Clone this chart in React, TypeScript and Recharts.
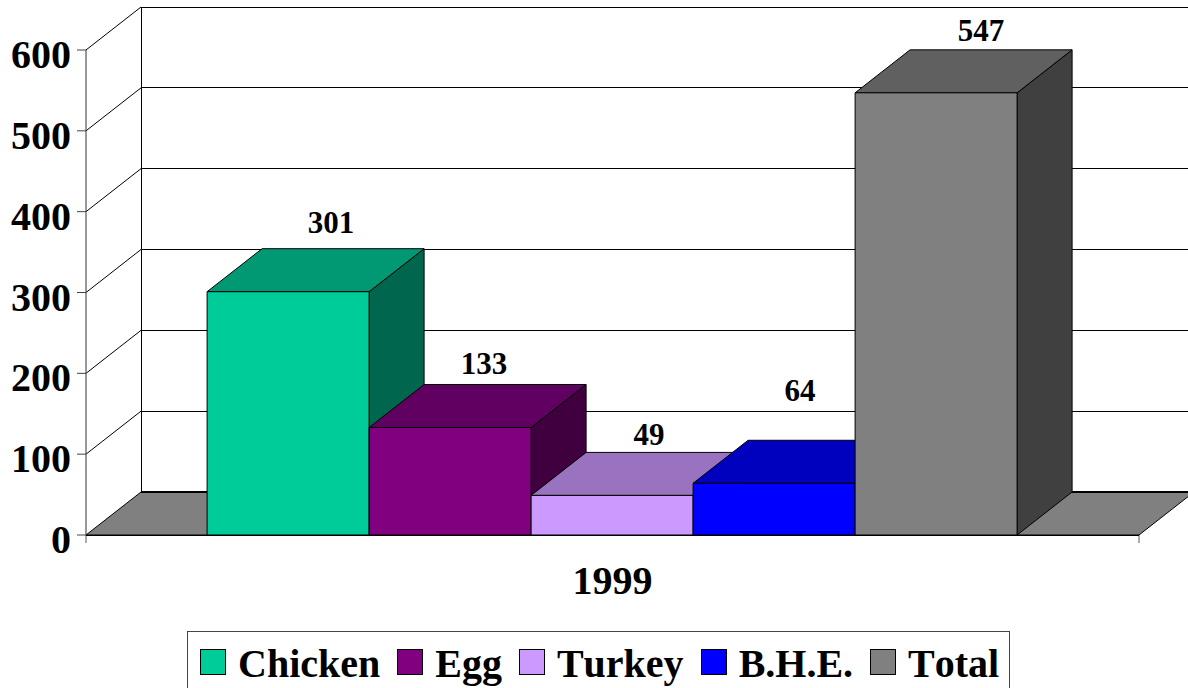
import { BarChart, Bar, XAxis, YAxis, CartesianGrid, Legend } from "recharts";

const categories = ["1999"];
const seriesNames = ["Chicken", "Egg", "Turkey", "B.H.E.", "Total"];
const seriesValues = [[301], [133], [49], [64], [547]];
const seriesColors = ["#00CC99", "#800080", "#CC99FF", "#0000FF", "#808080"];
const yTicks = [0, 100, 200, 300, 400, 500, 600];

const data = categories.map((category, i) => {
  const row: Record<string, string | number> = { category };
  seriesNames.forEach((name, s) => {
    row[name] = seriesValues[s][i];
  });
  return row;
});

// depth of the fake 3D box, in pixels
const DEPTH_X = 55;
const DEPTH_Y = 43;
const FONT = "'Liberation Serif', 'Times New Roman', serif";

// the value labels don't sit at a fixed spot over the bars in the original
const labelNudges = [
  { dx: 43, dy: -59 },
  { dx: 34, dy: -53 },
  { dx: 37, dy: -50 },
  { dx: 26, dy: -82 },
  { dx: 45, dy: -52 },
];

const shade = (hex: string, k: number) => {
  const n = parseInt(hex.slice(1), 16);
  const part = (v: number) => Math.round(v * k);
  return `rgb(${part((n >> 16) & 255)},${part((n >> 8) & 255)},${part(n & 255)})`;
};

const Box = ({ x, y, width, height, fill }: any) => {
  const right = x + width;
  const bottom = y + height;
  return (
    <g stroke="#000" strokeWidth={1} strokeLinejoin="round">
      <polygon
        points={`${right},${y} ${right + DEPTH_X},${y - DEPTH_Y} ${right + DEPTH_X},${bottom - DEPTH_Y} ${right},${bottom}`}
        fill={shade(fill, 0.5)}
      />
      <polygon
        points={`${x},${y} ${x + DEPTH_X},${y - DEPTH_Y} ${right + DEPTH_X},${y - DEPTH_Y} ${right},${y}`}
        fill={shade(fill, 0.75)}
      />
      <rect x={x} y={y} width={width} height={height} fill={fill} />
    </g>
  );
};

const WallLine = (props: any) => {
  const { x1, x2, y1, y, height, key } = props;
  const isFloor = y1 >= y + height - 1;
  const isTop = y1 <= y + 1;
  return (
    <g key={key}>
      {isFloor && (
        <polygon
          points={`${x1},${y1} ${x1 + DEPTH_X},${y1 - DEPTH_Y} ${x2 + DEPTH_X},${y1 - DEPTH_Y} ${x2},${y1}`}
          fill="#808080"
          stroke="#000"
          strokeWidth={1}
        />
      )}
      {isFloor && (
        <line x1={x1 + DEPTH_X} x2={x2 + DEPTH_X} y1={y1 - DEPTH_Y} y2={y1 - DEPTH_Y} stroke="#000" strokeWidth={2} />
      )}
      {isFloor && <line x1={x1} x2={x1} y1={y1} y2={y1 + 8} stroke="#555" />}
      {isFloor && <line x1={x2} x2={x2} y1={y1} y2={y1 + 8} stroke="#555" />}
      {isTop && (
        <line x1={x1 + DEPTH_X} x2={x1 + DEPTH_X} y1={y1 - DEPTH_Y} y2={y + height - DEPTH_Y} stroke="#000" shapeRendering="crispEdges" />
      )}
      {isFloor && <line x1={x1} x2={x2} y1={y1} y2={y1} stroke="#000" shapeRendering="crispEdges" />}
      {!isFloor && (
        <>
          <line x1={x1} y1={y1} x2={x1 + DEPTH_X} y2={y1 - DEPTH_Y} stroke="#000" />
          <line x1={x1 + DEPTH_X} y1={y1 - DEPTH_Y} x2={x2 + DEPTH_X} y2={y1 - DEPTH_Y} stroke="#000" shapeRendering="crispEdges" />
        </>
      )}
    </g>
  );
};

const YTick = ({ x, y, payload }: any) => (
  <text x={x} y={y + 18} textAnchor="end" fontFamily={FONT} fontWeight="bold" fontSize={40} fill="#000">
    {payload.value}
  </text>
);

const XTick = ({ x, y, payload }: any) => (
  <text x={x} y={y + 51} textAnchor="middle" fontFamily={FONT} fontWeight="bold" fontSize={40} fill="#000">
    {payload.value}
  </text>
);

const valueLabel = (s: number) => (props: any) => {
  const { x, y, width, value } = props;
  return (
    <text
      x={x + width / 2 + labelNudges[s].dx}
      y={y + labelNudges[s].dy}
      textAnchor="middle"
      fontFamily={FONT}
      fontWeight="bold"
      fontSize={31}
      fill="#000"
    >
      {value}
    </text>
  );
};

const LegendBox = ({ payload }: any) => (
  <div
    style={{
      boxSizing: "border-box",
      width: 823,
      height: 70,
      border: "1px solid #444",
      background: "#fff",
      display: "flex",
      alignItems: "flex-start",
      paddingLeft: 12,
      paddingTop: 9,
      fontFamily: FONT,
      fontWeight: "bold",
      fontSize: 40,
      lineHeight: "46px",
      fontKerning: "none",
      color: "#000",
    }}
  >
    {(payload || []).map((entry: any) => (
      <div key={entry.value} style={{ display: "flex", alignItems: "flex-start", marginRight: 17 }}>
        <span
          style={{
            boxSizing: "border-box",
            display: "block",
            width: 26,
            height: 26,
            marginTop: 8,
            marginRight: 12,
            background: entry.color,
            border: "1px solid #000",
          }}
        />
        <span>{entry.value}</span>
      </div>
    ))}
  </div>
);

export default function App() {
  return (
    <div style={{ position: "absolute", left: 0, top: 0, width: 1188, height: 688, overflow: "hidden", background: "#fff" }}>
      <BarChart
        width={1188}
        height={688}
        data={data}
        barGap={0}
        barCategoryGap="11.5%"
        margin={{ top: 50, right: 49, bottom: 23, left: 0 }}
        style={{ overflow: "hidden" }}
      >
        <CartesianGrid vertical={false} horizontal={(props: any) => <WallLine {...props} />} />
        <XAxis dataKey="category" height={60} tickLine={false} axisLine={false} tick={<XTick />} />
        <YAxis
          width={86}
          domain={[0, 600]}
          ticks={yTicks}
          interval={0}
          tickSize={9}
          tickMargin={6}
          tickLine={{ stroke: "#444" }}
          axisLine={{ stroke: "#333" }}
          tick={<YTick />}
        />
        <Legend
          itemSorter={null}
          content={<LegendBox />}
          height={70}
          wrapperStyle={{ left: 187, top: 631, bottom: "auto", width: 823 }}
        />
        {seriesNames.map((name, s) => (
          <Bar
            key={name}
            dataKey={name}
            fill={seriesColors[s]}
            shape={<Box />}
            label={valueLabel(s)}
            isAnimationActive={false}
          />
        ))}
      </BarChart>
    </div>
  );
}
